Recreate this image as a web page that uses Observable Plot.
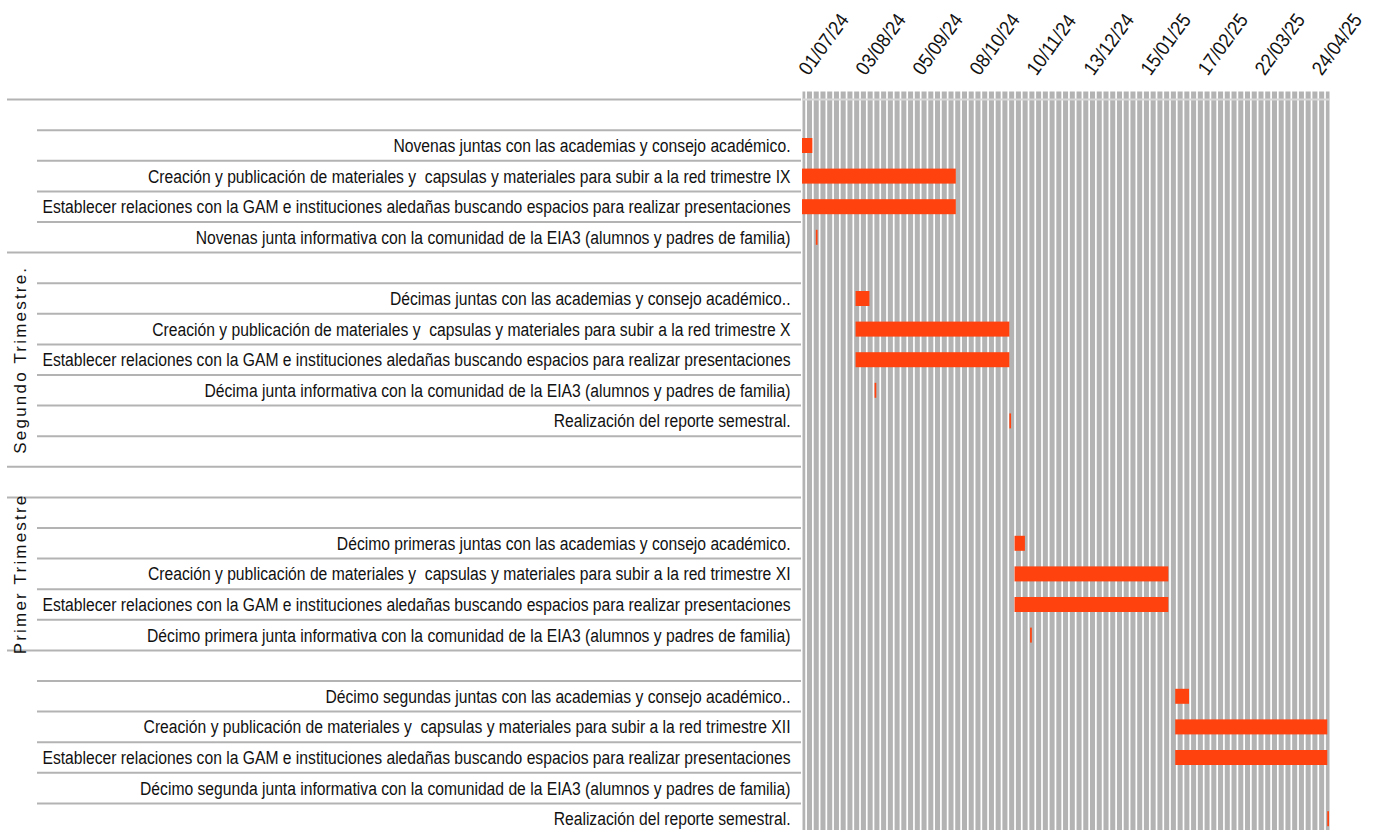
<!DOCTYPE html>
<html>
<head>
<meta charset="utf-8">
<script src="https://cdn.jsdelivr.net/npm/d3@7"></script>
<script src="https://cdn.jsdelivr.net/npm/@observablehq/plot@0.6"></script>
<style>
  html, body { margin: 0; padding: 0; background: #fff; }
  svg { display: block; }
  text { white-space: pre; }
</style>
</head>
<body>
<div id="chart"></div>
<script>
// ---- data ----
const rowLabels = [
  "",
  "Novenas juntas con las academias y consejo académico.",
  "Creación y publicación de materiales y  capsulas y materiales para subir a la red trimestre IX",
  "Establecer relaciones con la GAM e instituciones aledañas buscando espacios para realizar presentaciones",
  "Novenas junta informativa con la comunidad de la EIA3 (alumnos y padres de familia)",
  "",
  "Décimas juntas con las academias y consejo académico..",
  "Creación y publicación de materiales y  capsulas y materiales para subir a la red trimestre X",
  "Establecer relaciones con la GAM e instituciones aledañas buscando espacios para realizar presentaciones",
  "Décima junta informativa con la comunidad de la EIA3 (alumnos y padres de familia)",
  "Realización del reporte semestral.",
  "",
  "",
  "",
  "Décimo primeras juntas con las academias y consejo académico.",
  "Creación y publicación de materiales y  capsulas y materiales para subir a la red trimestre XI",
  "Establecer relaciones con la GAM e instituciones aledañas buscando espacios para realizar presentaciones",
  "Décimo primera junta informativa con la comunidad de la EIA3 (alumnos y padres de familia)",
  "",
  "Décimo segundas juntas con las academias y consejo académico..",
  "Creación y publicación de materiales y  capsulas y materiales para subir a la red trimestre XII",
  "Establecer relaciones con la GAM e instituciones aledañas buscando espacios para realizar presentaciones",
  "Décimo segunda junta informativa con la comunidad de la EIA3 (alumnos y padres de familia)",
  "Realización del reporte semestral."
];

const taskRows   = [1, 2, 3, 4, 6, 7, 8, 9, 10, 14, 15, 16, 17, 19, 20, 21, 23];
const taskStarts = ["2024-07-01","2024-07-01","2024-07-01","2024-07-09",
                    "2024-08-01","2024-08-01","2024-08-01","2024-08-12","2024-10-29",
                    "2024-11-01","2024-11-01","2024-11-01","2024-11-10",
                    "2025-02-02","2025-02-02","2025-02-02","2025-05-01"];
const taskEnds   = ["2024-07-07","2024-09-28","2024-09-28","2024-07-10",
                    "2024-08-09","2024-10-29","2024-10-29","2024-08-13","2024-10-30",
                    "2024-11-07","2025-01-29","2025-01-29","2024-11-11",
                    "2025-02-10","2025-05-01","2025-05-01","2025-05-02"];

const tickLabels = ["01/07/24","03/08/24","05/09/24","08/10/24","10/11/24",
                    "13/12/24","15/01/25","17/02/25","22/03/25","24/04/25"];

const groupLabels = ["Segundo Trimestre.", "Primer Trimestre"];
const groupFromRow = [5, 13];
const groupToRow   = [12, 18];
const fullLineRows = [0, 5, 12, 13, 18];

const domainStart = "2024-07-01";
const domainEnd   = "2025-05-02";

// ---- helpers ----
const parse = d3.utcParse("%Y-%m-%d");
const parseTick = d3.utcParse("%d/%m/%y");
const tasks = taskRows.map((r, i) => ({row: r, start: parse(taskStarts[i]), end: parse(taskEnds[i])}));
const ticks = tickLabels.map(t => ({date: parseTick(t), label: t}));

// decorative vertical stripes of the plot background
const DAY = 864e5;
const t0 = parse(domainStart).getTime(), t1 = parse(domainEnd).getTime();
const stripes = d3.range(t0 + 2.1 * DAY, t1, 3.9 * DAY).map(t => new Date(t));

const rows = d3.range(rowLabels.length);
const rowH = 30.6;
const yTop = 99.6;

const sans = "'Liberation Sans', Arial, sans-serif";

const plot = Plot.plot({
  width: 1376,
  height: 830,
  marginLeft: 802,
  marginRight: 47,
  marginTop: 91,
  marginBottom: 0,
  style: {background: "transparent", overflow: "visible"},
  x: {type: "utc", domain: [parse(domainStart), parse(domainEnd)], axis: null},
  y: {type: "band", domain: rows, range: [yTop, yTop + rowH * rows.length], padding: 0, round: false, axis: null},
  marks: [
    Plot.frame({fill: "#b3b3b3", stroke: null}),
    Plot.ruleX(stripes, {x: d => d, stroke: "#ffffff", strokeWidth: 1.7}),
    Plot.barX(tasks, {x1: "start", x2: "end", y: "row", fill: "#ff420e", insetTop: 7.8, insetBottom: 7.8}),
    Plot.axisY({anchor: "left", label: null, tickSize: 0, tickPadding: 12, tickFormat: i => rowLabels[i],
                fontSize: 19, fontFamily: sans, fill: "#111"}),
    Plot.text(ticks, {x: "date", text: "label", frameAnchor: "top", dx: 6, dy: -15, rotate: -54,
                      textAnchor: "start", lineAnchor: "bottom", fontSize: 20, fontFamily: sans, fill: "#111"})
  ]
});

document.getElementById("chart").appendChild(plot);

const svg = d3.select(plot);
// condense the label glyphs horizontally (narrow face look)
svg.selectAll("text").each(function () {
  const s = this.textContent;
  const t = this.getAttribute("transform") || "";
  if (rowLabels.includes(s) && s !== "") this.setAttribute("transform", t + " scale(0.825,1)");
  else if (tickLabels.includes(s)) this.setAttribute("transform", t + " scale(0.9,1)");
});

// row separator lines in the label area, positioned from Plot's own y scale
const ys = plot.scale("y");
const xs = plot.scale("x");
const g = svg.insert("g", ":first-child");
rows.forEach(r => {
  const y = ys.apply(r);
  g.append("line")
    .attr("x1", fullLineRows.includes(r) ? 7 : 37).attr("x2", 801)
    .attr("y1", y).attr("y2", y)
    .attr("stroke", "#b3b3b3").attr("stroke-width", 2);
});
// light line crossing the grid at the first boundary
svg.append("line")
  .attr("x1", xs.range[0]).attr("x2", xs.range[1])
  .attr("y1", ys.apply(0)).attr("y2", ys.apply(0))
  .attr("stroke", "#d6d6d6").attr("stroke-width", 2);
// group labels
groupLabels.forEach((lab, i) => {
  const yc = (ys.apply(groupFromRow[i]) + ys.apply(groupToRow[i])) / 2;
  svg.append("text")
    .attr("transform", `translate(20,${yc}) rotate(-90)`)
    .attr("text-anchor", "middle")
    .attr("dominant-baseline", "central")
    .attr("font-family", sans)
    .attr("font-size", 17)
    .attr("letter-spacing", 2.2)
    .attr("fill", "#111")
    .text(lab);
});
</script>
</body>
</html>
